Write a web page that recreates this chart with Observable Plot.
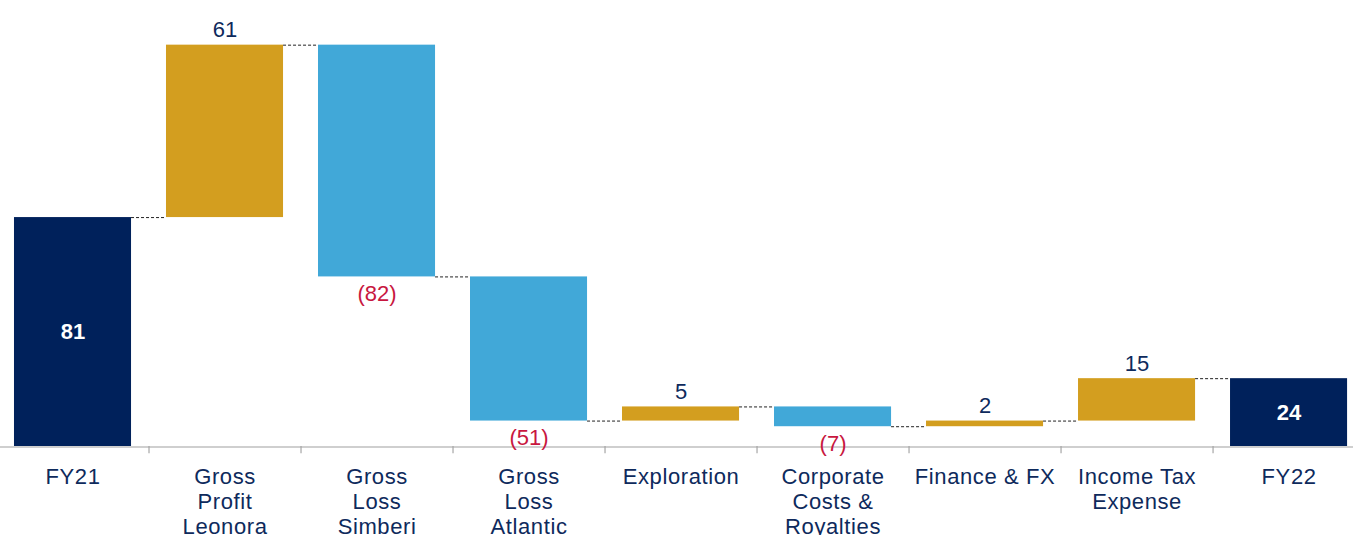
<!DOCTYPE html>
<html>
<head>
<meta charset="utf-8">
<script src="https://cdn.jsdelivr.net/npm/d3@7"></script>
<script src="https://cdn.jsdelivr.net/npm/@observablehq/plot@0.6"></script>
<style>
  html, body { margin: 0; padding: 0; background: #fff; }
  #chart { width: 1353px; height: 535px; overflow: hidden; }
  .cat text { letter-spacing: 0.6px; }
</style>
</head>
<body>
<div id="chart"></div>
<script>
const categories = ["FY21", "Gross\nProfit\nLeonora", "Gross\nLoss\nSimberi", "Gross\nLoss\nAtlantic", "Exploration", "Corporate\nCosts &\nRoyalties", "Finance & FX", "Income Tax\nExpense", "FY22"];
const values = [81, 61, -82, -51, 5, -7, 2, 15, 24];
const kinds = ["total", "delta", "delta", "delta", "delta", "delta", "delta", "delta", "total"];

const colors = { total: "#00215B", up: "#D39E1F", down: "#41A8D8" };

let run = 0;
const data = categories.map((c, i) => {
  const v = values[i];
  let start, end;
  if (kinds[i] === "total") { start = 0; end = v; run = v; }
  else { start = run; end = run + v; run = end; }
  const type = kinds[i] === "total" ? "total" : (v >= 0 ? "up" : "down");
  return { i, c, v, start, end, lo: Math.min(start, end), hi: Math.max(start, end), type };
});

const half = 0.385;
const connectors = data.slice(0, -1).map(d => ({ y: d.end, x1: d.i + half, x2: d.i + 1 - half }));
const separators = d3.range(0, categories.length - 1).map(i => i + 0.5);
const fmt = v => v < 0 ? `(${Math.abs(v)})` : `${v}`;

const chart = Plot.plot({
  width: 1353,
  height: 535,
  marginTop: 0,
  marginBottom: 89,
  marginLeft: 0,
  marginRight: 0,
  style: { fontFamily: "'Liberation Sans', Arial, sans-serif", background: "#fff" },
  x: { type: "linear", domain: [-0.477, 8.424], axis: null },
  y: { domain: [0, 157.8], axis: null },
  marks: [
    Plot.rectY(data, {
      x1: d => d.i - half, x2: d => d.i + half, y1: "lo", y2: "hi",
      fill: d => colors[d.type]
    }),
    Plot.ruleY(connectors, { y: "y", x1: "x1", x2: "x2", stroke: "#222", strokeWidth: 1, strokeDasharray: "3,2" }),
    Plot.ruleY([0], { stroke: "#BFBFBF", strokeWidth: 1.5, dy: 0.5 }),
    Plot.ruleX(separators, { x: d => d, y1: 0, y2: -2.6, stroke: "#A6A6A6", strokeWidth: 1.2 }),
    Plot.text(data.filter(d => d.type === "up"), {
      x: "i", y: "hi", text: d => fmt(d.v), dy: -15,
      fill: "#0E2A5C", fontSize: 22
    }),
    Plot.text(data.filter(d => d.type === "down"), {
      x: "i", y: "lo", text: d => fmt(d.v), dy: 17,
      fill: "#C8173F", fontSize: 22
    }),
    Plot.text(data.filter(d => d.type === "total"), {
      x: "i", y: d => d.v / 2, text: d => fmt(d.v),
      fill: "#fff", fontSize: 22, fontWeight: "bold"
    }),
    Plot.text(data, {
      x: "i", frameAnchor: "bottom", text: "c", lineAnchor: "top", dy: 20,
      lineHeight: 1.14, fill: "#0E2A5C", fontSize: 22, className: "cat"
    })
  ]
});
document.getElementById("chart").appendChild(chart);
</script>
</body>
</html>
